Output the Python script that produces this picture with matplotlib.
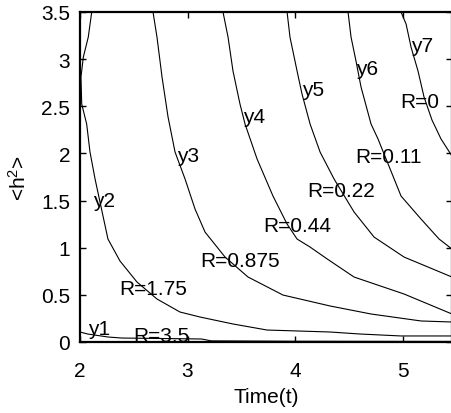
import matplotlib
matplotlib.use("Agg")
import matplotlib.pyplot as plt

plt.rcParams["font.family"] = ["Liberation Sans", "DejaVu Sans"]
plt.rcParams["mathtext.fontset"] = "custom"
plt.rcParams["mathtext.rm"] = "Liberation Sans"
plt.rcParams["mathtext.it"] = "Liberation Sans"

# curves: time t and <h^2>
t_y1 = [2.0, 2.07, 2.26, 2.39, 3.13, 3.22, 4.0, 5.46]
h_y1 = [0.106, 0.085, 0.053, 0.042, 0.032, 0.012, 0.008, 0.006]

t_y2 = [2.109, 2.077, 2.031, 2.009, 2.016, 2.062, 2.093, 2.140, 2.186, 2.260, 2.372,
        2.530, 2.716, 2.930, 3.116, 3.423, 3.74, 4.326, 4.60, 4.986, 5.46]
h_y2 = [3.50, 3.234, 3.022, 2.81, 2.524, 2.312, 2.015, 1.729, 1.485, 1.092, 0.859,
        0.636, 0.456, 0.318, 0.265, 0.191, 0.127, 0.106, 0.085, 0.064, 0.064]

t_y3 = [2.679, 2.716, 2.763, 2.819, 2.884, 2.977, 3.070, 3.163, 3.349, 3.563,
        3.888, 4.326, 4.707, 5.172, 5.46]
h_y3 = [3.50, 3.234, 2.81, 2.386, 2.015, 1.729, 1.41, 1.166, 0.901, 0.689,
        0.498, 0.382, 0.297, 0.223, 0.212]

t_y4 = [3.330, 3.377, 3.423, 3.488, 3.535, 3.647, 3.795, 3.926, 4.019, 4.140,
        4.30, 4.549, 5.014, 5.46]
h_y4 = [3.50, 3.234, 2.874, 2.524, 2.312, 1.941, 1.548, 1.251, 1.092, 1.007,
        0.880, 0.689, 0.509, 0.297]

t_y5 = [3.926, 3.953, 4.019, 4.065, 4.140, 4.233, 4.363, 4.549, 4.735, 5.014, 5.46]
h_y5 = [3.50, 3.234, 2.874, 2.630, 2.312, 2.015, 1.729, 1.379, 1.113, 0.901, 0.689]

t_y6 = [4.493, 4.521, 4.567, 4.614, 4.707, 4.772, 4.847, 4.986, 5.172, 5.340, 5.46]
h_y6 = [3.50, 3.234, 2.980, 2.704, 2.312, 2.153, 1.941, 1.548, 1.304, 1.092, 0.986]

t_y7 = [4.986, 5.033, 5.079, 5.144, 5.200, 5.274, 5.358, 5.46]
h_y7 = [3.50, 3.372, 3.128, 2.874, 2.598, 2.354, 2.153, 1.972]

curve_t = [t_y1, t_y2, t_y3, t_y4, t_y5, t_y6, t_y7]
curve_h = [h_y1, h_y2, h_y3, h_y4, h_y5, h_y6, h_y7]

# labels: curve names and R values with their positions (t, h)
name_text = ["y1", "y2", "y3", "y4", "y5", "y6", "y7"]
name_t = [2.074, 2.121, 2.902, 3.516, 4.065, 4.567, 5.079]
name_h = [0.085, 1.44, 1.92, 2.333, 2.619, 2.842, 3.086]

r_text = ["R=3.5", "R=1.75", "R=0.875", "R=0.44", "R=0.22", "R=0.11", "R=0"]
r_t = [2.493, 2.363, 3.116, 3.702, 4.112, 4.558, 4.977]
r_h = [0.01, 0.509, 0.806, 1.177, 1.548, 1.909, 2.49]

fig = plt.figure(figsize=(4.51, 4.14), dpi=100)
ax = fig.add_axes([80 / 451, 71 / 414, 372 / 451, 330 / 414])

for tt, hh in zip(curve_t, curve_h):
    ax.plot(tt, hh, color="black", linewidth=0.8)

for s, x, y in zip(name_text, name_t, name_h):
    ax.text(x, y, s, fontsize=15, ha="left", va="baseline")
for s, x, y in zip(r_text, r_t, r_h):
    ax.text(x, y, s, fontsize=15, ha="left", va="baseline")

ax.set_xlim(2, 5.46)
ax.set_ylim(0, 3.5)
ax.set_xticks([2, 3, 4, 5])
ax.set_yticks([0, 0.5, 1, 1.5, 2, 2.5, 3, 3.5])
ax.set_yticklabels(["0", "0.5", "1", "1.5", "2", "2.5", "3", "3.5"])
ax.tick_params(direction="in", length=4, width=1, top=True, right=True,
               labelsize=15)
ax.tick_params(axis="x", pad=14)
ax.tick_params(axis="y", pad=7)
for sp in ax.spines.values():
    sp.set_linewidth(1.6)

ax.set_xlabel("Time(t)", fontsize=15, labelpad=5)
ax.set_ylabel(r"<h$^{\mathrm{2}}$>", fontsize=15, labelpad=8)

fig.savefig("out.png", dpi=100)
